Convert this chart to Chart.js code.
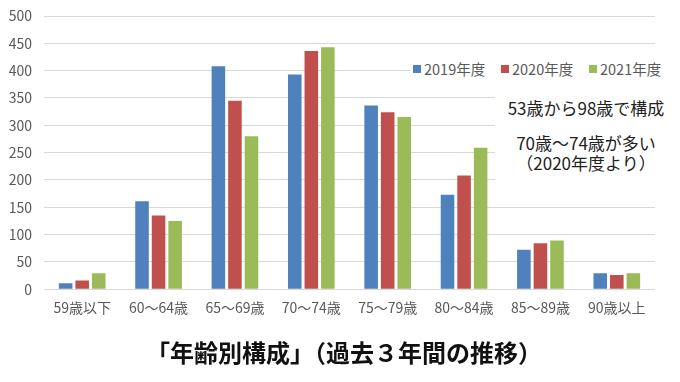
<!DOCTYPE html>
<html lang="ja">
<head>
<meta charset="utf-8">
<script src="https://cdn.jsdelivr.net/npm/chart.js@4/dist/chart.umd.min.js"></script>
<style>
  html, body { margin: 0; padding: 0; background: #fff; }
  #wrap { position: relative; width: 680px; height: 382px; font-family: "Noto Sans CJK JP", sans-serif; }
  #legend { position: absolute; left: 410px; top: 58px; width: 262px; height: 21px; background: #fff;
            font-size: 14.5px; color: #595959; }
  #legend span.item { position: absolute; top: 0; display: flex; align-items: center; white-space: nowrap; line-height: 21px; }
  #legend i { display: inline-block; width: 8px; height: 8px; margin-right: 3px; }
  #note { position: absolute; left: 495px; top: 90px; width: 185px; height: 98px; background: #fff;
          color: #222; font-size: 17px; text-align: center; }
  #note div { position: absolute; left: 0; width: 182px; line-height: 20px; }
</style>
</head>
<body>
<div id="wrap">
  <canvas id="chart" width="680" height="382"></canvas>
  <div id="legend"></div>
  <div id="note">
    <div style="top:8px">53歳から98歳で構成</div>
    <div style="top:43px">70歳～74歳が多い</div>
    <div style="top:63px">（2020年度より）</div>
  </div>
</div>
<script>
// age groups
const categories = ['59歳以下', '60～64歳', '65～69歳', '70～74歳', '75～79歳', '80～84歳', '85～89歳', '90歳以上'];
const seriesNames = ['2019年度', '2020年度', '2021年度'];
const values2019 = [11, 161, 408, 393, 336, 173, 72, 29];
const values2020 = [16, 135, 345, 436, 324, 208, 84, 26];
const values2021 = [29, 125, 280, 443, 315, 259, 89, 29];
const yTicks = [0, 50, 100, 150, 200, 250, 300, 350, 400, 450, 500];
const colors = ['#4F81BD', '#C0504D', '#9BBB59'];

const FONT = '"Noto Sans CJK JP", sans-serif';

const datasets = [values2019, values2020, values2021].map((data, i) => ({
    label: seriesNames[i],
    data,
    backgroundColor: colors[i],
    borderWidth: 0,
    categoryPercentage: 0.65,
    barPercentage: 0.82
}));

const chart = new Chart(document.getElementById('chart'), {
    type: 'bar',
    data: { labels: categories, datasets },
    options: {
        responsive: false,
        animation: false,
        layout: { padding: { top: 0, right: 0, left: 8, bottom: 0 } },
        plugins: {
            legend: { display: false },
            tooltip: { enabled: false },
            title: {
                display: true,
                position: 'bottom',
                text: '「年齢別構成」（過去３年間の推移）',
                color: '#111',
                font: { family: FONT, size: 24, weight: 'bold' },
                padding: { top: 9, bottom: 15 }
            }
        },
        scales: {
            x: {
                grid: { display: false, drawTicks: false },
                border: { display: false },
                ticks: { color: '#595959', font: { family: FONT, size: 14 }, padding: 10, maxRotation: 0 },
                afterFit: s => { s.height = 40; }
            },
            y: {
                min: 0,
                max: 500,
                afterBuildTicks: s => { s.ticks = yTicks.map(v => ({ value: v })); },
                grid: { color: '#d9d9d9', lineWidth: 1, drawTicks: false },
                border: { display: false },
                ticks: { color: '#595959', font: { family: FONT, size: 14 }, padding: 12 },
                afterFit: s => { s.width = 36; s.paddingTop = 16; }
            },
            // empty right margin so the title centres like the original
            yRight: {
                position: 'right',
                min: 0,
                max: 1,
                grid: { display: false, drawTicks: false },
                border: { display: false },
                ticks: { display: false },
                afterFit: s => { s.width = 25; }
            }
        }
    }
});

// html legend from the chart's datasets
const legendEl = document.getElementById('legend');
chart.data.datasets.forEach((ds, i) => {
    const item = document.createElement('span');
    item.className = 'item';
    item.style.left = (3 + i * 88) + 'px';
    item.innerHTML = `<i style="background:${ds.backgroundColor}"></i>${ds.label}`;
    legendEl.appendChild(item);
});
</script>
</body>
</html>
